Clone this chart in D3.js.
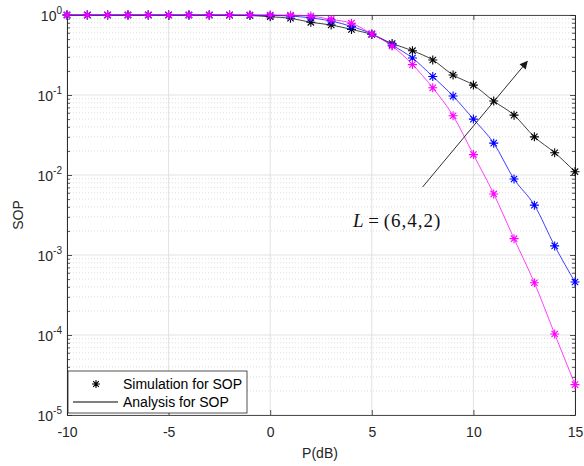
<!DOCTYPE html>
<html>
<head>
<meta charset="utf-8">
<script src="https://cdn.jsdelivr.net/npm/d3@7/dist/d3.min.js"></script>
<style>
    body { margin: 0; background: #fff; }
    svg { display: block; font-family: "Liberation Sans", Arial, sans-serif; }
</style>
</head>
<body>
<svg id="chart" width="584" height="466"></svg>
<script>
/* SOP versus P(dB), log scale */

const powerDb = [-10, -9, -8, -7, -6, -5, -4, -3, -2, -1, 0, 1, 2, 3, 4, 5, 6, 7, 8, 9, 10, 11, 12, 13, 14, 15];
const sopL6 = [1, 1, 1, 1, 1, 1, 1, 1, 0.995, 0.985, 0.95, 0.91, 0.81, 0.75, 0.66, 0.57, 0.44, 0.358, 0.274, 0.178, 0.133, 0.084, 0.056, 0.030, 0.019, 0.011];
const sopL4 = [1, 1, 1, 1, 1, 1, 1, 1, 1, 0.998, 0.99, 0.97, 0.92, 0.84, 0.72, 0.58, 0.42, 0.29, 0.17, 0.097, 0.050, 0.025, 0.0089, 0.0042, 0.0013, 0.00046];
const sopL2 = [1, 1, 1, 1, 1, 1, 1, 1, 1, 1, 1, 0.995, 0.97, 0.88, 0.79, 0.58, 0.41, 0.24, 0.123, 0.055, 0.018, 0.0058, 0.0016, 0.00045, 0.000103, 0.000024];
const seriesColors = ["#000000", "#0000ff", "#ff00ff"];
const xTicks = [-10, -5, 0, 5, 10, 15];
const yExponents = [0, -1, -2, -3, -4, -5];
const legendLabels = ["Simulation for SOP", "Analysis for SOP"];
const annotation = "(6,4,2)";

const margin = { left: 67, top: 15, right: 575, bottom: 415 };
const svg = d3.select("#chart");

const x = d3.scaleLinear().domain([-10, 15]).range([margin.left, margin.right]);
const y = d3.scaleLog().domain([1e-5, 1]).range([margin.bottom, margin.top]);

const minorY = [];
yExponents.slice(0, -1).forEach(e => {
    for (let k = 2; k <= 9; k++) minorY.push(k * Math.pow(10, e - 1));
});

// grid
const grid = svg.append("g");
grid.selectAll(".minor")
    .data(minorY)
    .join("line")
    .attr("x1", margin.left).attr("x2", margin.right)
    .attr("y1", d => y(d)).attr("y2", d => y(d))
    .attr("stroke", "#c8c8c8").attr("stroke-width", 0.6)
    .attr("stroke-dasharray", "1,2");
grid.selectAll(".majorY")
    .data(yExponents.map(e => Math.pow(10, e)))
    .join("line")
    .attr("x1", margin.left).attr("x2", margin.right)
    .attr("y1", d => y(d)).attr("y2", d => y(d))
    .attr("stroke", "#e2e2e2").attr("stroke-width", 1);
grid.selectAll(".majorX")
    .data(xTicks)
    .join("line")
    .attr("y1", margin.top).attr("y2", margin.bottom)
    .attr("x1", d => x(d)).attr("x2", d => x(d))
    .attr("stroke", "#e2e2e2").attr("stroke-width", 1);

// axes
const axisColor = "#262626";
const bottomAxis = svg.append("g")
    .attr("transform", `translate(0,${margin.bottom})`)
    .call(d3.axisBottom(x).tickValues(xTicks).tickSizeInner(-5).tickSizeOuter(0).tickPadding(12)
        .tickFormat(d => String(d)));
const topAxis = svg.append("g")
    .attr("transform", `translate(0,${margin.top})`)
    .call(d3.axisTop(x).tickValues(xTicks).tickSizeInner(-5).tickSizeOuter(0).tickFormat(""));
const leftAxis = svg.append("g")
    .attr("transform", `translate(${margin.left},0)`)
    .call(d3.axisLeft(y).tickValues(minorY).tickSizeInner(-3).tickSizeOuter(0).tickFormat(""));
const leftMajor = svg.append("g")
    .attr("transform", `translate(${margin.left},0)`)
    .call(d3.axisLeft(y).tickValues(yExponents.map(e => Math.pow(10, e))).tickSizeInner(-5).tickSizeOuter(0).tickFormat(""));
const rightAxis = svg.append("g")
    .attr("transform", `translate(${margin.right},0)`)
    .call(d3.axisRight(y).tickValues(minorY).tickSizeInner(-3).tickSizeOuter(0).tickFormat(""));
const rightMajor = svg.append("g")
    .attr("transform", `translate(${margin.right},0)`)
    .call(d3.axisRight(y).tickValues(yExponents.map(e => Math.pow(10, e))).tickSizeInner(-5).tickSizeOuter(0).tickFormat(""));

[bottomAxis, topAxis, leftAxis, leftMajor, rightAxis, rightMajor].forEach(g => {
    g.selectAll("path, line").attr("stroke", axisColor).attr("stroke-width", 0.8);
});
bottomAxis.selectAll("text")
    .attr("font-size", 14)
    .attr("fill", axisColor)
    .attr("font-family", "Liberation Sans, Arial, sans-serif");

// y tick labels 10^e
const yLabels = svg.append("g");
yExponents.forEach(e => {
    const t = yLabels.append("text")
        .attr("x", margin.left - 5)
        .attr("y", y(Math.pow(10, e)) + 6)
        .attr("text-anchor", "end")
        .attr("font-size", 14)
        .attr("fill", axisColor);
    t.append("tspan").text("10");
    t.append("tspan").attr("font-size", 10).attr("dy", -7).text(e < 0 ? "-" + (-e) : e);
});

// axis titles
svg.append("text")
    .attr("x", 320).attr("y", 458)
    .attr("text-anchor", "middle")
    .attr("font-size", 14)
    .attr("fill", axisColor)
    .text("P(dB)");
svg.append("text")
    .attr("transform", "translate(23,215) rotate(-90)")
    .attr("text-anchor", "middle")
    .attr("font-size", 14)
    .attr("fill", axisColor)
    .text("SOP");

// series
const line = d3.line()
    .x((d, i) => x(powerDb[i]))
    .y(d => y(d))
    .curve(d3.curveMonotoneX);

function asterisk(g, cx, cy, r, color) {
    const a = r * Math.SQRT1_2;
    const path = `M${cx - r},${cy}L${cx + r},${cy}M${cx},${cy - r}L${cx},${cy + r}` +
        `M${cx - a},${cy - a}L${cx + a},${cy + a}M${cx - a},${cy + a}L${cx + a},${cy - a}`;
    g.append("path").attr("d", path).attr("stroke", color).attr("stroke-width", 1.1).attr("fill", "none");
}

const plot = svg.append("g");
[sopL6, sopL4, sopL2].forEach((values, k) => {
    plot.append("path")
        .datum(values)
        .attr("d", line)
        .attr("fill", "none")
        .attr("stroke", seriesColors[k])
        .attr("stroke-opacity", 0.75)
        .attr("stroke-width", 1);
    const markers = plot.append("g");
    values.forEach((v, i) => asterisk(markers, x(powerDb[i]), y(v), 4.5, seriesColors[k]));
});

// annotation arrow
svg.append("defs").append("marker")
    .attr("id", "arrow")
    .attr("viewBox", "0 0 10 10")
    .attr("refX", 9).attr("refY", 5)
    .attr("markerWidth", 10).attr("markerHeight", 8)
    .attr("markerUnits", "userSpaceOnUse")
    .attr("orient", "auto")
    .append("path")
    .attr("d", "M0,0L10,5L0,10z")
    .attr("fill", "#1a1a1a");
svg.append("line")
    .attr("x1", x(7.5)).attr("y1", y(Math.pow(10, -2.15)))
    .attr("x2", x(12.65)).attr("y2", y(Math.pow(10, -0.58)))
    .attr("stroke", "#1a1a1a").attr("stroke-width", 0.9)
    .attr("marker-end", "url(#arrow)");

const note = svg.append("text")
    .attr("x", 353).attr("y", 227)
    .attr("font-family", "Liberation Serif, Times New Roman, serif")
    .attr("font-size", 19)
    .attr("fill", "#111");
note.append("tspan").attr("font-style", "italic").text("L");
note.append("tspan").text(" = ");
note.append("tspan").attr("letter-spacing", 1).text(annotation);

// legend
const legend = svg.append("g").attr("transform", "translate(68,371)");
legend.append("rect")
    .attr("width", 179).attr("height", 42)
    .attr("fill", "#fff").attr("stroke", axisColor).attr("stroke-width", 0.8);
asterisk(legend, 28, 13, 4, "#000");
legend.append("line")
    .attr("x1", 5).attr("x2", 50).attr("y1", 31).attr("y2", 31)
    .attr("stroke", "#000").attr("stroke-width", 1);
legendLabels.forEach((label, i) => {
    legend.append("text")
        .attr("x", 55).attr("y", 18 + i * 18)
        .attr("font-size", 14)
        .attr("fill", "#000")
        .text(label);
});
</script>
</body>
</html>
